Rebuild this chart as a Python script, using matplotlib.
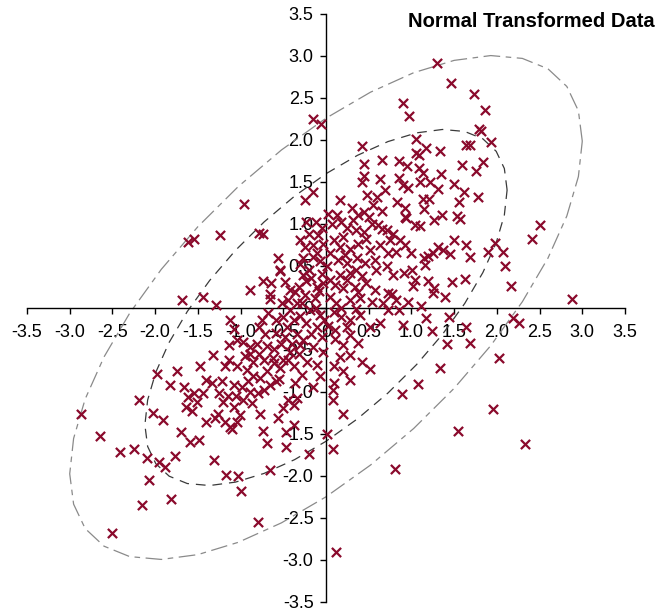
import matplotlib
matplotlib.use("Agg")
import matplotlib.pyplot as plt
import numpy as np

plt.rcParams["font.family"] = ["Liberation Sans", "DejaVu Sans"]
plt.rcParams["axes.unicode_minus"] = False
plt.rcParams["lines.scale_dashes"] = False

# transformed observations, grouped by where they sit in the plane
upper_pts = [
    (-0.15, 2.24), (-0.06, 2.18), (-0.96, 1.23), (-0.25, 1.28), (-0.15, 1.38), (-0.12, 1.02), (0.02, 1.11),
    (1.30, 2.91), (1.46, 2.67), (0.90, 2.43), (0.97, 2.28), (1.05, 2.01), (0.42, 1.92), (1.17, 1.90),
    (1.33, 1.86), (1.05, 1.84), (1.09, 1.82), (1.64, 1.93), (0.65, 1.76), (0.44, 1.71), (0.86, 1.74),
    (0.95, 1.68), (1.09, 1.66), (1.59, 1.70), (1.14, 1.60), (1.35, 1.59), (0.44, 1.56), (0.85, 1.54),
    (0.63, 1.53), (0.42, 1.50), (1.22, 1.50), (1.10, 1.50), (1.50, 1.47), (0.90, 1.46), (0.96, 1.42),
    (0.69, 1.40), (0.48, 1.34), (1.31, 1.41), (1.61, 1.38), (0.60, 1.32), (0.16, 1.28), (0.83, 1.26),
    (1.14, 1.29), (1.20, 1.29), (1.56, 1.26), (0.55, 1.22), (0.30, 1.19), (0.92, 1.19), (1.15, 1.17),
    (1.36, 1.10), (1.53, 1.09), (0.44, 1.14), (0.38, 1.10), (0.13, 1.10), (0.65, 1.15), (0.50, 1.08),
    (0.94, 1.06), (1.26, 1.04), (0.32, 1.04),
    (1.73, 2.54), (1.86, 2.35), (1.79, 2.13), (1.82, 2.10), (1.93, 1.97), (1.69, 1.94), (1.84, 1.73),
    (1.76, 1.62), (1.78, 1.31), (2.50, 0.98),
]

right_pts = [
    (0.92, 1.08), (1.57, 1.05), (1.04, 0.98), (1.10, 0.97), (2.41, 0.82), (0.87, 0.80), (0.93, 0.74),
    (1.00, 0.65), (1.50, 0.80), (1.64, 0.75), (1.31, 0.72), (1.98, 0.77), (1.90, 0.66), (2.07, 0.66),
    (1.37, 0.68), (1.45, 0.64), (1.25, 0.65), (1.19, 0.61), (1.15, 0.59), (1.69, 0.60), (1.16, 0.51),
    (2.10, 0.49), (0.91, 0.41), (1.01, 0.45), (1.63, 0.34), (1.48, 0.30), (1.19, 0.31), (1.04, 0.33),
    (1.02, 0.26), (1.27, 0.23), (1.25, 0.17), (2.16, 0.26), (1.39, 0.13), (2.88, 0.10), (0.96, 0.07),
    (1.11, 0.02), (0.85, -0.03), (1.44, -0.11), (1.17, -0.13), (2.19, -0.13), (2.26, -0.18), (0.90, -0.21),
    (1.64, -0.23), (1.24, -0.28), (1.42, -0.43), (1.69, -0.42), (2.03, -0.60), (1.33, -0.72), (1.08, -0.91),
    (0.89, -1.03), (0.08, -0.98), (0.08, -1.10), (0.20, -1.27), (1.96, -1.21), (1.54, -1.47), (2.33, -1.62),
    (0.08, -1.68), (0.81, -1.92), (0.12, -2.91),
]

core_pts = [
    (-0.23, 1.02), (0.07, 1.00), (0.18, 1.02), (0.54, 1.00), (0.61, 0.98), (0.71, 0.92), (0.79, 0.88),
    (0.65, 0.94), (-0.09, 0.86), (-0.03, 0.76), (-0.15, 0.74), (-0.25, 0.72), (0.09, 0.80), (0.20, 0.84),
    (0.16, 0.72), (0.28, 0.70), (0.38, 0.76), (0.47, 0.82), (0.51, 0.68), (0.63, 0.74), (0.75, 0.80),
    (0.82, 0.66), (0.73, 0.65), (-0.27, 0.59), (-0.15, 0.60), (-0.07, 0.55), (0.01, 0.49), (-0.20, 0.45),
    (-0.27, 0.39), (0.14, 0.57), (0.24, 0.53), (0.36, 0.59), (0.46, 0.53), (0.57, 0.57), (0.28, 0.41),
    (0.16, 0.39), (0.42, 0.37), (0.59, 0.45), (0.71, 0.49), (0.79, 0.39), (-0.23, 0.31), (-0.11, 0.25),
    (-0.03, 0.29), (0.11, 0.27), (0.20, 0.23), (0.34, 0.25), (0.47, 0.29), (0.57, 0.21), (0.73, 0.17),
    (0.77, 0.16), (-0.25, 0.15), (-0.13, 0.11), (0.05, 0.13), (0.12, 0.05), (0.28, 0.09), (0.40, 0.11),
    (0.54, 0.07), (0.67, 0.05), (0.82, 0.09), (-0.19, -0.03), (-0.07, -0.09), (0.09, -0.05), (0.18, -0.11),
    (0.28, -0.15), (0.40, -0.09), (0.51, -0.23), (0.63, -0.19), (0.73, -0.03), (-0.23, -0.19), (-0.11, -0.23),
    (0.11, -0.27), (0.24, -0.23), (0.11, -0.37), (0.28, -0.33), (-0.27, -0.39), (-0.15, -0.47), (-0.03, -0.53),
    (0.16, -0.59), (0.28, -0.57), (0.09, -0.70), (0.20, -0.76), (0.51, -0.73), (-0.07, -0.82), (0.09, -0.90),
    (0.28, -0.86),
    (-0.05, 0.95), (-0.20, 0.88), (-0.30, 0.80), (-0.10, 0.65), (-0.30, 0.52), (-0.05, 0.40), (-0.18, 0.35),
    (-0.32, 0.25), (-0.08, 0.20), (-0.28, 0.05), (-0.12, 0.00), (-0.02, -0.15), (-0.30, -0.10), (-0.18, -0.32),
    (-0.05, -0.35), (-0.32, -0.55), (-0.22, -0.65), (-0.10, -0.68), (-0.28, -0.80), (-0.15, -0.95),
    (0.05, 0.65), (0.22, 0.62), (0.35, 0.45), (0.05, 0.33), (0.25, 0.33), (0.38, 0.18), (0.18, 0.00),
    (0.35, -0.02), (0.02, -0.22), (0.20, -0.45), (0.38, -0.42), (0.42, -0.65), (0.45, 0.90), (0.35, 0.92),
    (0.25, 0.95),
]

left_pts = [
    (-1.61, 0.78), (-1.55, 0.82), (-1.68, 0.09), (-1.98, -0.79), (-1.75, -0.76),
    (-1.24, 0.86), (-0.78, 0.89), (-0.74, 0.88), (-0.56, 0.59), (-0.54, 0.45), (-0.54, 0.43), (-0.74, 0.31),
    (-0.64, 0.29), (-0.89, 0.21), (-0.65, 0.16), (-0.66, 0.10), (-1.44, 0.13), (-1.29, 0.03), (-0.42, 0.21),
    (-0.36, 0.19), (-0.44, 0.09), (-0.34, 0.05), (-1.12, -0.15), (-1.08, -0.25), (-0.75, -0.15), (-0.58, -0.15),
    (-0.68, -0.07), (-0.50, -0.11), (-0.38, -0.15), (-0.42, -0.03), (-0.79, -0.23), (-0.71, -0.31), (-0.46, -0.23),
    (-1.04, -0.39), (-0.97, -0.41), (-1.14, -0.45), (-0.89, -0.47), (-0.81, -0.43), (-0.69, -0.46), (-0.61, -0.49),
    (-0.53, -0.43), (-0.40, -0.43), (-1.32, -0.57), (-1.14, -0.62), (-1.04, -0.70), (-1.18, -0.70), (-0.93, -0.74),
    (-0.85, -0.82), (-0.77, -0.84), (-0.69, -0.76), (-0.61, -0.66), (-0.54, -0.72), (-0.44, -0.62), (-0.38, -0.70),
    (-1.40, -0.86), (-1.34, -0.90), (-1.22, -0.88), (-1.08, -0.92), (-1.47, -0.70), (-0.34, -0.31), (-0.89, -0.55),
    (-0.42, -0.53),
    (-0.48, 0.30), (-0.52, 0.05), (-0.58, -0.30), (-0.48, -0.35), (-0.62, -0.60), (-0.50, -0.62), (-0.30, -0.45),
    (-0.55, -0.85), (-0.72, -0.62), (-0.85, -0.65), (-0.95, -0.58), (-0.78, -0.55),
]

lower_pts = [
    (-2.87, -1.27), (-2.64, -1.53), (-2.41, -1.72), (-2.25, -1.68), (-2.19, -1.10), (-2.02, -1.25), (-1.91, -1.34),
    (-2.10, -1.79), (-1.96, -1.84), (-1.89, -1.90), (-1.77, -1.77), (-2.07, -2.05), (-2.15, -2.35), (-1.81, -2.28),
    (-2.51, -2.68), (-1.83, -0.92), (-1.66, -0.95), (-1.61, -1.06), (-1.54, -1.02), (-1.44, -1.02), (-1.64, -1.19),
    (-1.57, -1.23), (-1.51, -1.12), (-1.40, -1.36), (-1.70, -1.48), (-1.59, -1.60), (-1.49, -1.58),
    (-1.31, -1.82), (-1.17, -1.99), (-1.03, -2.01), (-1.00, -2.18), (-0.65, -1.93), (-0.80, -2.55), (-0.74, -1.47),
    (-0.69, -1.61), (-0.47, -1.66), (-0.47, -1.48), (-0.38, -1.40), (-0.20, -1.74), (0.01, -1.50), (-0.56, -1.31),
    (-0.50, -1.20), (-0.38, -1.16), (-0.44, -1.10), (-0.77, -1.27), (-1.26, -1.27), (-1.18, -1.36), (-1.12, -1.42),
    (-1.10, -1.45), (-1.21, -1.13), (-1.08, -1.18), (-1.01, -1.28), (-0.97, -1.10), (-0.87, -1.14), (-0.89, -1.00),
    (-0.80, -1.02), (-0.72, -0.98), (-0.65, -0.92), (-0.58, -0.88), (-0.91, -0.88), (-0.36, -0.90), (-0.34, -1.08),
    (-1.30, -1.31), (-1.04, -1.36),
    (-1.25, -1.02), (-1.15, -1.05), (-1.05, -1.05), (-0.98, -0.95),
]

# contour ellipses of the fitted bivariate normal
rho = 0.66
inner_radius = 2.12
outer_radius = 3.0

ticks = np.arange(-3.5, 3.51, 0.5)

pts = np.array(upper_pts + right_pts + core_pts + left_pts + lower_pts)

fig = plt.figure(figsize=(6.63, 6.11), dpi=100)
ax = fig.add_axes([27 / 663, 9.5 / 611, 598 / 663, 588 / 611])
ax.set_xlim(-3.5, 3.5)
ax.set_ylim(-3.5, 3.5)

t = np.linspace(0, 2 * np.pi, 37)
for r, col, dash in [(outer_radius, "#8a8a8a", (12, 4, 4, 4)),
                     (inner_radius, "#3a3a3a", (7, 5))]:
    ex = r * np.cos(t)
    ey = r * (rho * np.cos(t) + np.sqrt(1 - rho ** 2) * np.sin(t))
    ax.plot(ex, ey, color=col, lw=0.9, dashes=dash, zorder=2)

ax.scatter(pts[:, 0], pts[:, 1], marker="x", s=44, linewidths=1.6,
           color="#8a0a2c", zorder=3)

for side in ("top", "right"):
    ax.spines[side].set_visible(False)
for side in ("left", "bottom"):
    ax.spines[side].set_position("zero")
    ax.spines[side].set_linewidth(1.0)

ax.set_xticks(ticks)
ax.set_yticks(ticks)
ax.set_xticklabels([f"{v:.1f}" if abs(v) > 1e-9 else "0" for v in ticks])
ax.set_yticklabels([f"{v:.1f}" if abs(v) > 1e-9 else "0" for v in ticks])
ax.tick_params(axis="both", direction="out", length=4, width=1.0, labelsize=13)
ax.tick_params(axis="x", pad=8)
ax.tick_params(axis="y", pad=5)

fig.text(0.988, 0.964, "Normal Transformed Data", ha="right", va="center",
         fontsize=14.5, fontweight="bold")

fig.savefig("out.png", dpi=100)
